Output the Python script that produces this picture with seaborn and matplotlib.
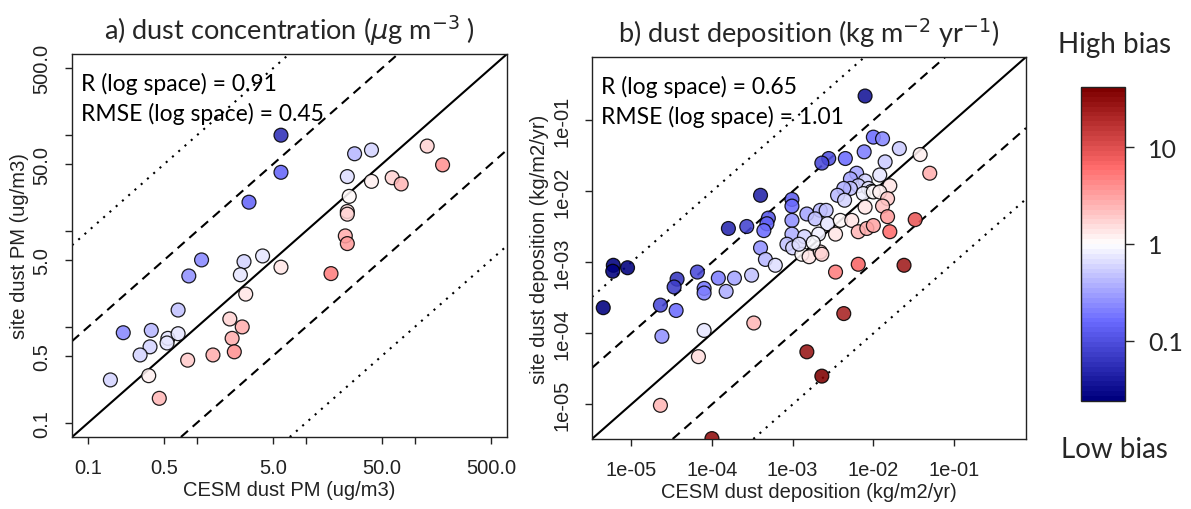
import matplotlib
matplotlib.use('Agg')
import matplotlib.pyplot as plt
from matplotlib.colors import LinearSegmentedColormap, LogNorm
from matplotlib.cm import ScalarMappable
from matplotlib.ticker import NullLocator
import seaborn as sns
import pandas as pd

# a) dust concentration (ug/m3): CESM model vs site
conc_model = [5.9, 5.9, 3, 28, 40, 130, 180, 24, 40, 62, 75, 25, 24, 24, 23, 24, 17,
              1.1, 0.84, 2.7, 4, 2.5, 5.9, 2.8, 0.67, 0.21, 0.38, 0.54, 0.67, 0.53,
              0.37, 0.3, 2, 2.6, 2.1, 2.2, 1.4, 0.82, 0.36, 0.16, 0.45]
conc_site = [100, 41, 20, 64, 70, 77, 49, 37, 33, 36, 31, 23, 16, 15, 8.9, 7.4, 3.6,
             5, 3.4, 4.8, 5.5, 3.5, 4.2, 2.2, 1.5, 0.87, 0.92, 0.76, 0.85, 0.68,
             0.62, 0.51, 1.21, 1.0, 0.76, 0.55, 0.51, 0.45, 0.31, 0.28, 0.18]

# b) dust deposition (kg/m2/yr): CESM model vs site
dep_model = [0.0079, 0.00027, 0.00016, 3.7e-05, 3.4e-05, 6.6e-05, 6.0e-06, 5.9e-06, 9.0e-06,
             0.00012, 0.00019, 8.0e-05, 8.0e-05, 0.00015, 2.3e-05, 3.6e-05, 4.5e-06, 2.4e-05,
             8.0e-05, 0.00033, 0.0043, 0.0015, 0.0023, 6.8e-05, 2.3e-05, 0.0001,
             0.0005, 0.00048, 0.00044, 0.0004, 0.00046, 0.00061,
             0.01, 0.013, 0.021, 0.038, 0.05, 0.0077, 0.0045, 0.0028, 0.0023, 0.014, 0.0062,
             0.012, 0.016, 0.0052, 0.0079, 0.0065, 0.0087, 0.0095, 0.0052, 0.0043, 0.0075,
             0.01, 0.012, 0.015, 0.013, 0.015, 0.0079, 0.0036, 0.0044, 0.0004, 0.00098,
             0.00098, 0.0015, 0.0022, 0.0026, 0.00098, 0.0019, 0.0027, 0.0039, 0.0054,
             0.0065, 0.0083, 0.01, 0.016, 0.033, 0.00098, 0.0014, 0.0021, 0.0034, 0.00085,
             0.001, 0.0013, 0.0016, 0.0022, 0.0023, 0.0034, 0.0065, 0.024, 0.00031, 0.0018,
             0.0012]
dep_site = [0.22, 0.0032, 0.003, 0.00058, 0.00045, 0.00073, 0.00091, 0.00075, 0.00084,
            0.0006, 0.0006, 0.00043, 0.00037, 0.00039, 0.00025, 0.00021, 0.00023, 9.1e-05,
            0.00011, 0.00014, 0.00019, 5.5e-05, 2.5e-05, 4.7e-05, 9.7e-06, 3.3e-06,
            0.0042, 0.0035, 0.0028, 0.0016, 0.0011, 0.00091,
            0.058, 0.055, 0.04, 0.033, 0.018, 0.036, 0.029, 0.029, 0.025, 0.026, 0.018,
            0.017, 0.012, 0.015, 0.014, 0.012, 0.011, 0.01, 0.011, 0.011, 0.0093,
            0.0098, 0.0098, 0.0079, 0.0062, 0.0044, 0.006, 0.0088, 0.0075, 0.0088, 0.0077,
            0.0062, 0.0048, 0.0054, 0.0054, 0.0039, 0.0041, 0.0035, 0.0039, 0.0039,
            0.0027, 0.003, 0.0033, 0.0027, 0.004, 0.0025, 0.0023, 0.0025, 0.0025, 0.0018,
            0.0016, 0.0013, 0.0012, 0.0014, 0.0013, 0.00073, 0.00094, 0.00091, 0.00066, 0.0019,
            0.0018]

conc_ticks = [0.1, 0.5, 1, 5, 10, 50, 100, 500]
conc_ticklabels = ['0.1', '0.5', '', '5.0', '', '50.0', '', '500.0']
dep_ticks = [1e-05, 1e-04, 1e-03, 1e-02, 1e-01]
dep_ticklabels = ['1e-05', '1e-04', '1e-03', '1e-02', '1e-01']
ref_factors = [0.01, 0.1, 1, 10, 100]
ref_styles = [(0, (1, 3)), (0, (4.5, 3)), '-', (0, (4.5, 3)), (0, (1, 3))]
bias_ticks = [0.1, 1, 10]
stats_conc = ['R (log space) = 0.91', 'RMSE (log space) = 0.45']
stats_dep = ['R (log space) = 0.65', 'RMSE (log space) = 1.01']

sns.set_theme(style='ticks')
plt.rcParams['font.family'] = ['Liberation Sans', 'DejaVu Sans']
title_font = ['Lato', 'DejaVu Sans']

cmap = LinearSegmentedColormap.from_list(
    'bias', ['#00007f', '#6a6aff', '#ffffff', '#ff6a6a', '#7f0000'], N=64)
norm = LogNorm(vmin=10 ** -1.625, vmax=10 ** 1.625)

fig = plt.figure(figsize=(11.91, 5.10), dpi=100)
ax1 = fig.add_axes([0.0605, 0.1412, 0.3652, 0.751])
ax2 = fig.add_axes([0.497, 0.1373, 0.3645, 0.749])
cax = fig.add_axes([0.908, 0.2118, 0.0366, 0.6157])


def panel(ax, model, site, lims, ticks, ticklabels, xlabel, ylabel, title, stats):
    df = pd.DataFrame({'model': model, 'site': site})
    df['bias'] = df['model'] / df['site']
    ax.set_xscale('log')
    ax.set_yscale('log')
    for k, ls in zip(ref_factors, ref_styles):
        ax.axline((1.0, k), (10.0, 10 * k), color='black', lw=1.5, ls=ls, zorder=1)
    sns.scatterplot(data=df, x='model', y='site', hue='bias', hue_norm=norm,
                    palette=cmap, legend=False, s=100, edgecolor='black',
                    linewidth=0.9, alpha=0.88, ax=ax, zorder=3)
    ax.set_xlim(lims)
    ax.set_ylim(lims)
    ax.xaxis.set_minor_locator(NullLocator())
    ax.yaxis.set_minor_locator(NullLocator())
    ax.set_xticks(ticks)
    ax.set_xticklabels(ticklabels)
    ax.set_yticks(ticks)
    ax.set_yticklabels(ticklabels, rotation=90, va='center')
    ax.tick_params(axis='both', length=5, width=1, pad=10, labelsize=14.5,
                   colors='#222222', direction='out')
    for sp in ax.spines.values():
        sp.set_color('#222222')
        sp.set_linewidth(1.0)
    ax.set_xlabel(xlabel, fontsize=14.5, color='#222222', labelpad=2)
    ax.set_ylabel(ylabel, fontsize=14.5, color='#222222', labelpad=2)
    ax.set_title(title, fontsize=19.5, family=title_font, pad=11)
    for i, txt in enumerate(stats):
        ax.text(0.02, 0.925 - i * 0.079, txt, transform=ax.transAxes, fontsize=16.5,
                family=title_font, va='center', ha='left', color='black', zorder=4)


panel(ax1, conc_model, conc_site, (10 ** -1.148, 10 ** 2.847), conc_ticks, conc_ticklabels,
      'CESM dust PM (ug/m3)', 'site dust PM (ug/m3)',
      r'a) dust concentration ($\mu$g m$^{-3}$ )', stats_conc)
panel(ax2, dep_model, dep_site, (10 ** -5.487, 10 ** -0.108), dep_ticks, dep_ticklabels,
      'CESM dust deposition (kg/m2/yr)', 'site dust deposition (kg/m2/yr)',
      r'b) dust deposition (kg m$^{-2}$ yr$^{-1}$)', stats_dep)

cb = fig.colorbar(ScalarMappable(norm=norm, cmap=cmap), cax=cax)
cb.set_ticks(bias_ticks)
cb.set_ticklabels(['0.1', '1', '10'])
cb.ax.yaxis.set_minor_locator(NullLocator())
cb.ax.tick_params(length=6.5, width=1, pad=10, labelsize=18)
for lab in cb.ax.get_yticklabels():
    lab.set_family(title_font)
cb.outline.set_linewidth(1.0)
cb.outline.set_edgecolor('#222222')
fig.text(0.936, 0.912, 'High bias', fontsize=20, family=title_font, ha='center', va='center')
fig.text(0.936, 0.118, 'Low bias', fontsize=20, family=title_font, ha='center', va='center')

fig.savefig('out.png', dpi=100)
plt.close(fig)
